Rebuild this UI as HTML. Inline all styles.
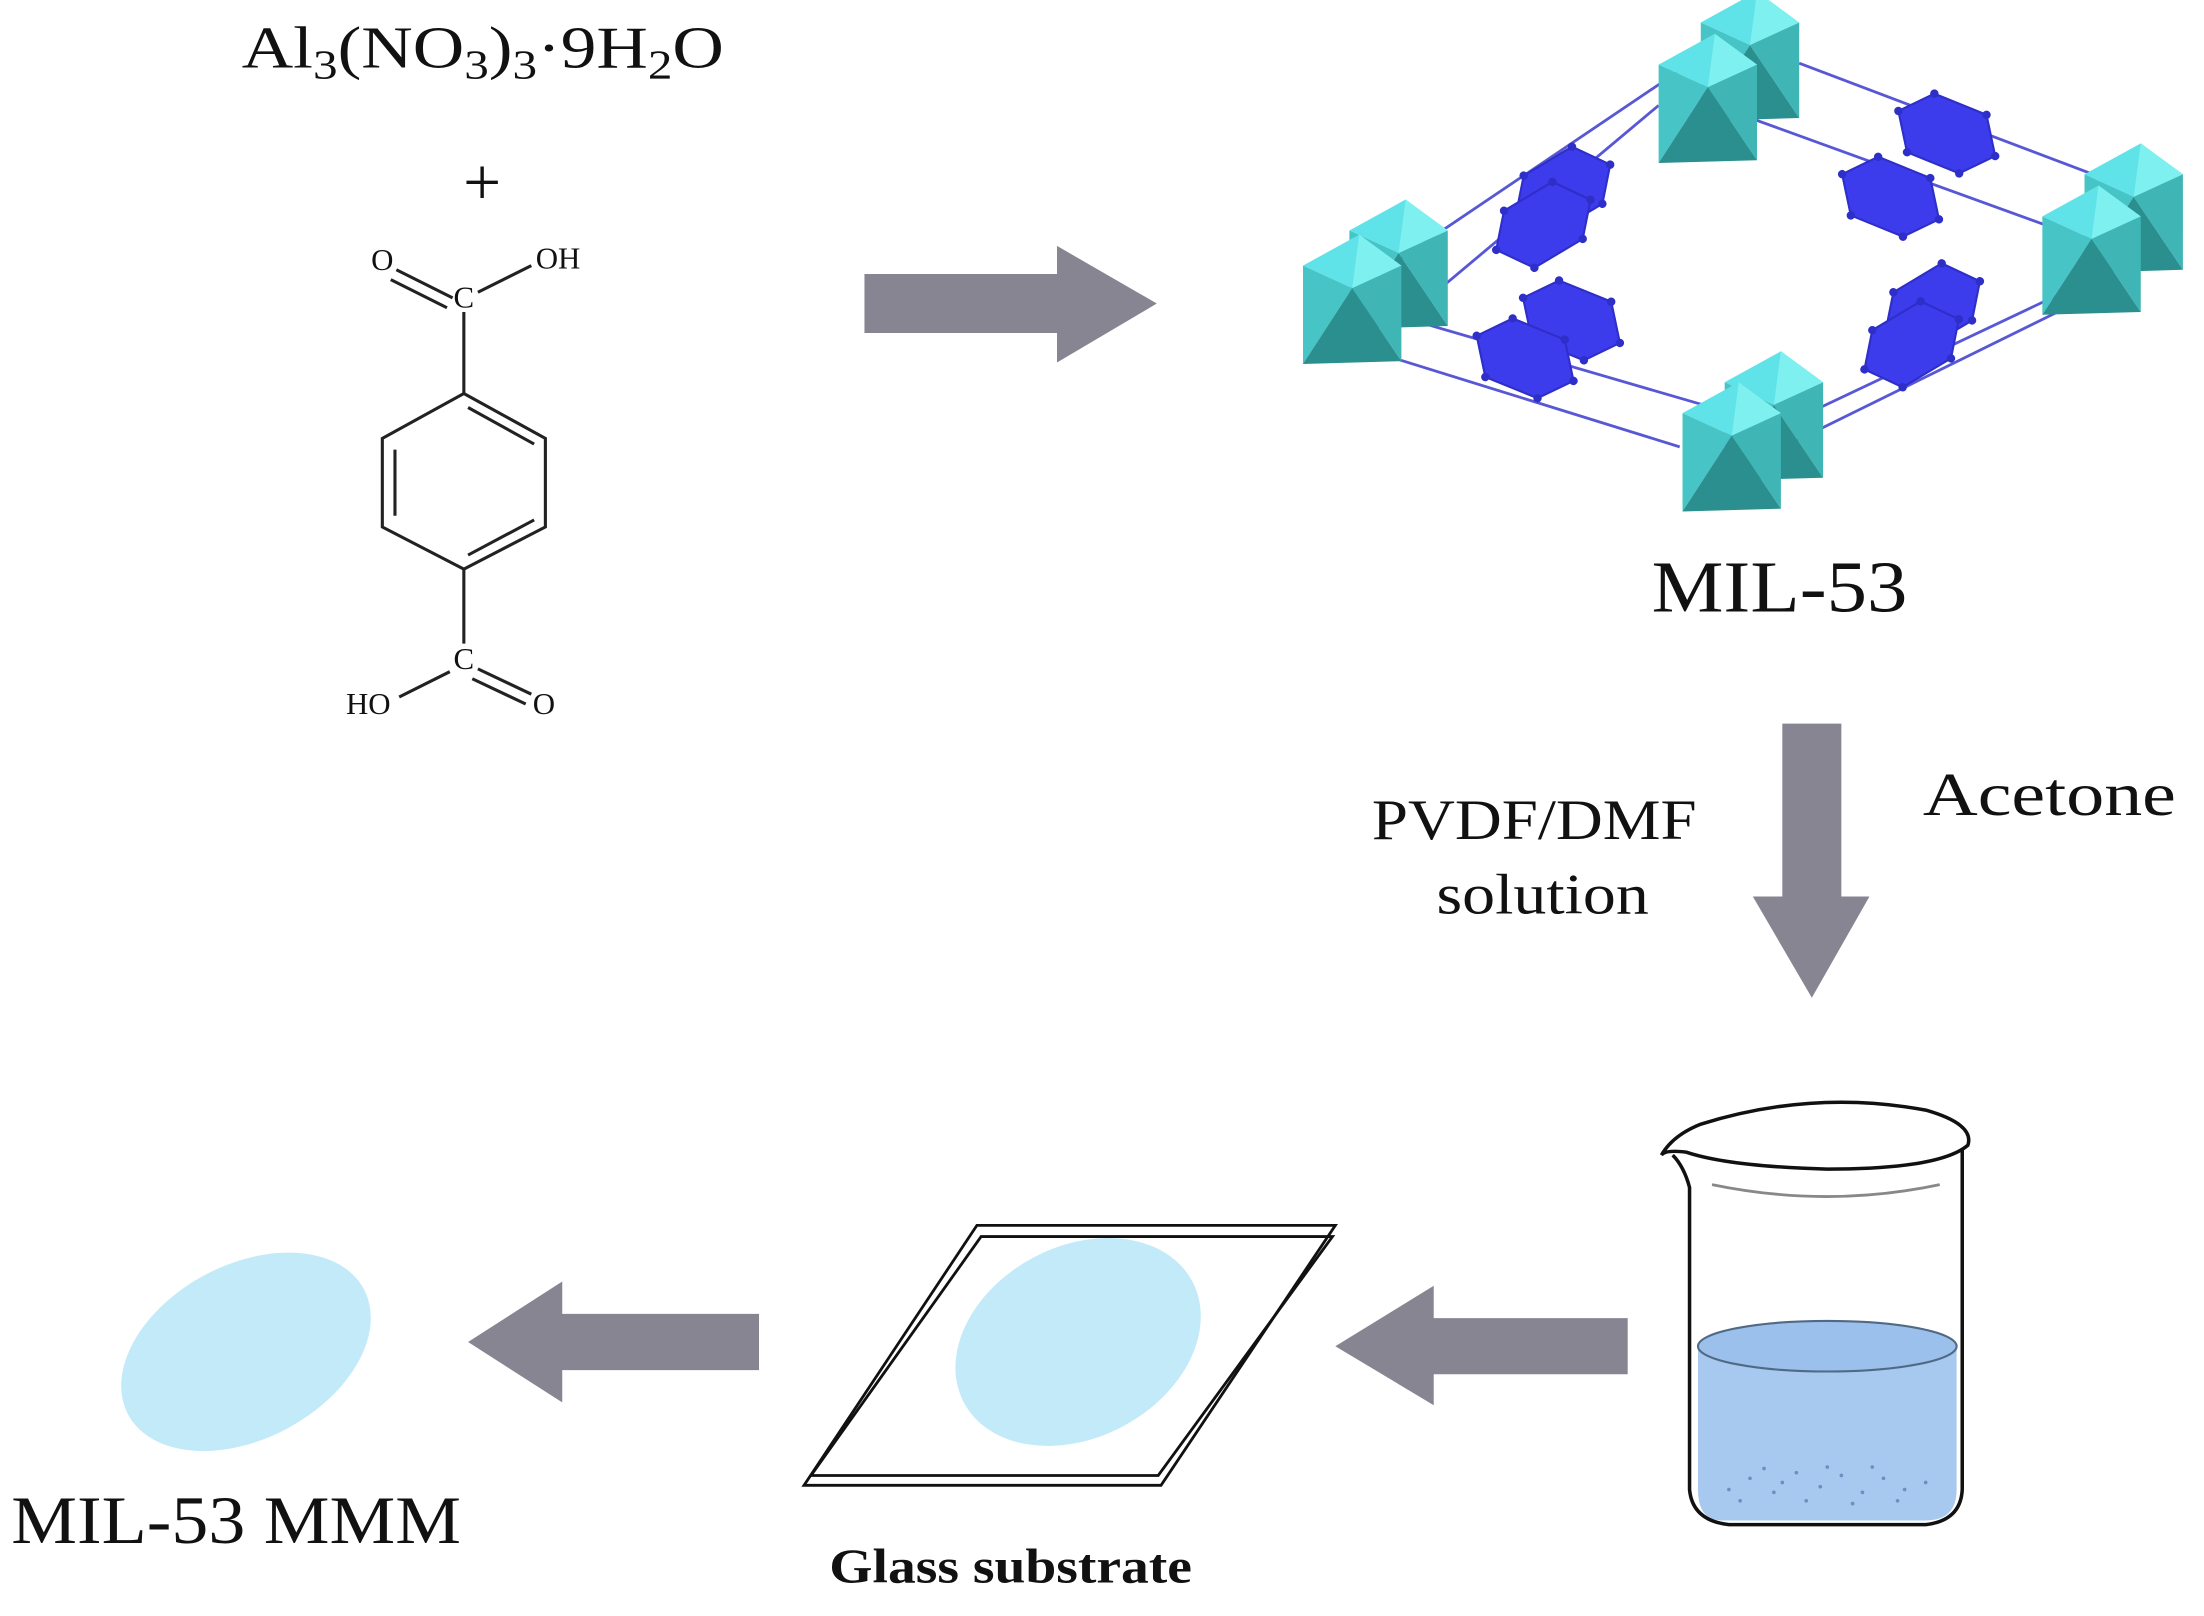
<!DOCTYPE html>
<html><head><meta charset="utf-8"><style>
html,body{margin:0;padding:0;background:#fff;}
svg{display:block;}
text{font-family:"Liberation Serif",serif;fill:#111;}
</style></head><body>
<svg width="2204" height="1616" viewBox="0 0 1568 1150" preserveAspectRatio="none" xmlns="http://www.w3.org/2000/svg">
<defs>
<g id="oct">
  <polygon points="-35,-28 5,-50 35,-28 0,-12" fill="#5fe3e8"/>
  <polygon points="-35,-28 0,-12 -35,42" fill="#46c4c6"/>
  <polygon points="0,-12 -35,42 35,40" fill="#2a8f8e"/>
  <polygon points="0,-12 35,-28 35,40" fill="#3fb5b6"/>
  <polygon points="5,-50 35,-28 0,-12" fill="#7ef0f0"/>
</g>
<g id="hex">
  <polygon points="-38,0 -20,-22 20,-24 38,0 20,22 -20,24" fill="#3c3cec" stroke="#2e2ec8" stroke-width="1.5"/>
  <circle cx="-38" cy="0" r="3" fill="#2e2ec8"/><circle cx="-20" cy="-22" r="3" fill="#2e2ec8"/>
  <circle cx="20" cy="-24" r="3" fill="#2e2ec8"/><circle cx="38" cy="0" r="3" fill="#2e2ec8"/>
  <circle cx="20" cy="22" r="3" fill="#2e2ec8"/><circle cx="-20" cy="24" r="3" fill="#2e2ec8"/>
</g>
</defs>

<text x="172" y="48" font-size="42" textLength="343" lengthAdjust="spacingAndGlyphs">Al<tspan font-size="29" dy="8">3</tspan><tspan dy="-8">(NO</tspan><tspan font-size="29" dy="8">3</tspan><tspan dy="-8">)</tspan><tspan font-size="29" dy="8">3</tspan><tspan dy="-8">·9H</tspan><tspan font-size="29" dy="8">2</tspan><tspan dy="-8">O</tspan></text>
<text x="343" y="146" font-size="48" text-anchor="middle">+</text>

<g stroke="#222" stroke-width="2.2" fill="none">
  <polygon points="330,280 388,312 388,375 330,405 272,375 272,312"/>
  <line x1="281" y1="320" x2="281" y2="367"/>
  <line x1="333" y1="290" x2="380" y2="316"/>
  <line x1="333" y1="395" x2="380" y2="370"/>
  <line x1="330" y1="280" x2="330" y2="222"/>
  <line x1="330" y1="405" x2="330" y2="458"/>
  <line x1="282" y1="192" x2="322" y2="212"/>
  <line x1="278" y1="199" x2="318" y2="219"/>
  <line x1="340" y1="208" x2="378" y2="189"/>
  <line x1="340" y1="476" x2="378" y2="494"/>
  <line x1="336" y1="483" x2="374" y2="501"/>
  <line x1="320" y1="478" x2="284" y2="496"/>
</g>
<text x="272" y="192" font-size="22" text-anchor="middle">O</text>
<text x="397" y="191" font-size="22" text-anchor="middle">OH</text>
<text x="330" y="219" font-size="22" text-anchor="middle">C</text>
<text x="330" y="476" font-size="22" text-anchor="middle">C</text>
<text x="262" y="508" font-size="22" text-anchor="middle">HO</text>
<text x="387" y="508" font-size="22" text-anchor="middle">O</text>

<g fill="#878592">
  <polygon points="615,195 752,195 752,175 823,216 752,258 752,237 615,237"/>
  <polygon points="1268,515 1310,515 1310,638 1330,638 1289,710 1247,638 1268,638"/>
  <polygon points="1158,938 1020,938 1020,915 950,958 1020,1000 1020,978 1158,978"/>
  <polygon points="540,935 400,935 400,912 333,955 400,998 400,975 540,975"/>
</g>

<g stroke="#5858d6" stroke-width="2">
  <line x1="1280" y1="45" x2="1518" y2="135"/>
  <line x1="1248" y1="85" x2="1488" y2="172"/>
  <line x1="1210" y1="40" x2="995" y2="185"/>
  <line x1="1180" y1="75" x2="1025" y2="205"/>
  <line x1="995" y1="225" x2="1225" y2="292"/>
  <line x1="960" y1="245" x2="1195" y2="318"/>
  <line x1="1295" y1="290" x2="1485" y2="200"/>
  <line x1="1265" y1="320" x2="1478" y2="215"/>
</g>
<use href="#oct" x="1245" y="44"/>
<use href="#oct" x="1215" y="74"/>
<use href="#oct" x="1518" y="152"/>
<use href="#oct" x="1488" y="182"/>
<use href="#oct" x="995" y="192"/>
<use href="#oct" x="962" y="217"/>
<use href="#hex" transform="translate(1112,135) rotate(-28)"/>
<use href="#hex" transform="translate(1098,160) rotate(-28)"/>
<use href="#hex" transform="translate(1385,95) rotate(25)"/>
<use href="#hex" transform="translate(1345,140) rotate(25)"/>
<use href="#hex" transform="translate(1118,228) rotate(25)"/>
<use href="#hex" transform="translate(1085,255) rotate(25)"/>
<use href="#hex" transform="translate(1375,218) rotate(-28)"/>
<use href="#hex" transform="translate(1360,245) rotate(-28)"/>
<use href="#oct" x="1262" y="300"/>
<use href="#oct" x="1232" y="322"/>

<text x="1175" y="435" font-size="52" textLength="182" lengthAdjust="spacingAndGlyphs">MIL-53</text>
<text x="1368" y="580" font-size="44" textLength="180" lengthAdjust="spacingAndGlyphs">Acetone</text>
<text x="976" y="597" font-size="41" textLength="231" lengthAdjust="spacingAndGlyphs">PVDF/DMF</text>
<text x="1022" y="650" font-size="41" textLength="151" lengthAdjust="spacingAndGlyphs">solution</text>

<path d="M1208,958 Q1300,936 1392,958 L1392,1060 Q1392,1082 1370,1082 L1225,1082 Q1208,1082 1208,1060 Z" fill="#a7c9ef"/>
<ellipse cx="1300" cy="958" rx="92" ry="18" fill="#9cc0ec" stroke="#506a85" stroke-width="1.5"/>
<g fill="#6d8fc0">
  <circle cx="1230" cy="1060" r="1.3"/><circle cx="1245" cy="1052" r="1.3"/><circle cx="1262" cy="1062" r="1.3"/><circle cx="1278" cy="1048" r="1.3"/><circle cx="1295" cy="1058" r="1.3"/><circle cx="1310" cy="1050" r="1.3"/><circle cx="1325" cy="1062" r="1.3"/><circle cx="1340" cy="1052" r="1.3"/><circle cx="1355" cy="1060" r="1.3"/><circle cx="1370" cy="1055" r="1.3"/><circle cx="1238" cy="1068" r="1.3"/><circle cx="1285" cy="1068" r="1.3"/><circle cx="1318" cy="1070" r="1.3"/><circle cx="1350" cy="1068" r="1.3"/><circle cx="1255" cy="1045" r="1.3"/><circle cx="1300" cy="1044" r="1.3"/><circle cx="1332" cy="1044" r="1.3"/><circle cx="1268" cy="1055" r="1.3"/>
</g>
<g stroke="#111" stroke-width="2.5" fill="none">
  <path d="M1182,822 Q1190,808 1210,800 Q1290,775 1370,790 Q1405,800 1400,815 Q1380,832 1300,832 Q1230,830 1200,820 Q1185,818 1182,822 Z"/>
  <path d="M1190,822 Q1198,830 1202,845 L1202,1060 Q1204,1082 1230,1085 L1370,1085 Q1395,1082 1396,1060 L1396,818"/>
</g>
<path d="M1218,843 Q1300,860 1380,843" stroke="#888" stroke-width="2" fill="none"/>

<g stroke="#111" stroke-width="2" fill="none">
  <polygon points="695,872 950,872 826,1057 572,1057"/>
  <polygon points="698,880 948,880 824,1050 577,1050"/>
</g>
<ellipse cx="767" cy="955" rx="92" ry="68" transform="rotate(-28 767 955)" fill="#c3eaf9"/>
<text x="590" y="1126" font-size="35" font-weight="bold" fill="#222" textLength="258" lengthAdjust="spacingAndGlyphs">Glass substrate</text>

<ellipse cx="175" cy="962" rx="95" ry="62" transform="rotate(-28 175 962)" fill="#c3eaf9"/>
<text x="8" y="1098" font-size="48" textLength="320" lengthAdjust="spacingAndGlyphs">MIL-53 MMM</text>
</svg>
</body></html>
